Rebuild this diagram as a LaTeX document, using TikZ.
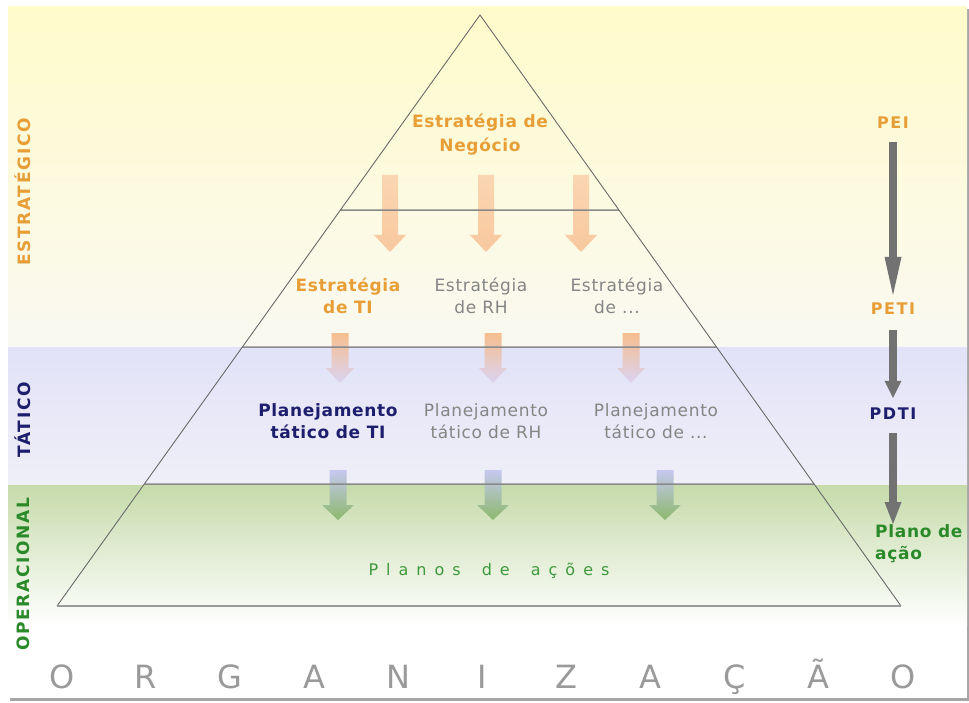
\documentclass[tikz,border=0pt]{standalone}
\usepackage{fontspec}
\setmainfont{DejaVu Sans}
\newfontfamily\lsfont[LetterSpace=4]{DejaVu Sans}
\newfontfamily\widefont[LetterSpace=10]{DejaVu Sans}
\newfontfamily\planosfont[LetterSpace=50]{DejaVu Sans}
\usetikzlibrary{arrows.meta}

\definecolor{orangeT}{HTML}{E89E36}
\definecolor{navyT}{HTML}{1E1E6E}
\definecolor{greenT}{HTML}{2A8A2A}
\definecolor{grayT}{HTML}{858585}
\definecolor{planosG}{HTML}{3E9A3E}
\definecolor{letterG}{HTML}{9A9A9A}
\definecolor{yTop}{HTML}{FFFBCB}
\definecolor{yMid}{HTML}{FEFBDF}
\definecolor{yBot}{HTML}{FAF9F1}
\definecolor{bTop}{HTML}{E2E2F8}
\definecolor{bBot}{HTML}{EFEFF8}
\definecolor{gTop}{HTML}{C6DBAA}
\definecolor{gMid}{HTML}{E2ECD4}
\definecolor{peachA}{HTML}{FAD6B2}
\definecolor{peachB}{HTML}{F8C89E}
\definecolor{peachC}{HTML}{F6BE8E}
\definecolor{lavA}{HTML}{DAD3F2}
\definecolor{lavB}{HTML}{C6C8F0}
\definecolor{leaf}{HTML}{8CB86C}
\definecolor{arrowG}{HTML}{727272}
\definecolor{lineG}{HTML}{8A8A8A}
\definecolor{sideG}{HTML}{6A6A6A}

\newcommand\FatArrow[8]{%
  \shade[top color=#7,bottom color=#8]
    ({#1-#5},{#2}) -- ({#1+#5},{#2}) -- ({#1+#5},{#3}) -- ({#1+#6},{#3})
    -- ({#1},{#4}) -- ({#1-#6},{#3}) -- ({#1-#5},{#3}) -- cycle;}

\tikzset{
  lbl/.style={inner sep=0pt, align=center, text=grayT,
    font=\lsfont\fontsize{17}{22}\selectfont},
  boldlbl/.style={inner sep=0pt, align=center,
    font=\lsfont\bfseries\fontsize{17}{22}\selectfont},
  sidelbl/.style={inner sep=0pt, rotate=90,
    font=\widefont\bfseries\fontsize{17}{20}\selectfont},
  rightlbl/.style={inner sep=0pt,
    font=\widefont\bfseries\fontsize{16}{20}\selectfont},
  letter/.style={inner sep=0pt, anchor=base, text=letterG,
    font=\fontsize{32}{36}\selectfont},
  garrow/.style={draw=arrowG, line width=8pt,
    -{Triangle[length=#1,width=17pt,line width=0pt]}},
  hline/.style={draw=lineG, line width=1.5pt},
  side/.style={draw=sideG, line width=0.9pt},
}

\begin{document}
\begin{tikzpicture}[x=1pt,y=-1pt]
\useasboundingbox (0,0) rectangle (969,703);
% frame and shadow
\fill[black!35] (10,9) rectangle (969,701);
\fill[white] (8,7) rectangle (967,698);
% bands
\shade[top color=yTop, middle color=yMid, bottom color=yBot] (8,7) rectangle (967,347);
\shade[top color=bTop, bottom color=bBot] (8,347) rectangle (967,485);
\shade[top color=gTop, middle color=gMid, bottom color=white] (8,485) rectangle (967,625);

% pyramid
\coordinate (apex) at (480,15);
\coordinate (bl) at (57,606);
\coordinate (br) at (901,606);
\coordinate (l1) at (intersection of bl--apex and 0,210--100,210);
\coordinate (r1) at (intersection of br--apex and 0,210--100,210);
\coordinate (l2) at (intersection of bl--apex and 0,347--100,347);
\coordinate (r2) at (intersection of br--apex and 0,347--100,347);
\coordinate (l3) at (intersection of bl--apex and 0,484--100,484);
\coordinate (r3) at (intersection of br--apex and 0,484--100,484);

% fat arrows row 1
\FatArrow{390}{175}{235}{252}{8}{16}{peachA}{peachB}
\FatArrow{486}{175}{235}{252}{8}{16}{peachA}{peachB}
\FatArrow{581}{175}{235}{252}{8}{16}{peachA}{peachB}
% row 2
\FatArrow{340}{333}{368}{383}{8.5}{14}{peachC}{lavA}
\FatArrow{493}{333}{368}{383}{8.5}{14}{peachC}{lavA}
\FatArrow{631}{333}{368}{383}{8.5}{14}{peachC}{lavA}
% row 3
\FatArrow{338}{470}{505}{520}{8.5}{16}{lavB}{leaf}
\FatArrow{493}{470}{505}{520}{8.5}{16}{lavB}{leaf}
\FatArrow{665}{470}{505}{520}{8.5}{16}{lavB}{leaf}

\draw[hline] (l1) -- (r1);
\draw[hline] (l2) -- (r2);
\draw[hline] (l3) -- (r3);
\draw[side] (bl) -- (apex) -- (br);
\draw[draw=black!40, line width=1.8pt] (bl) -- (br);

% pyramid texts
\node[boldlbl, text=orangeT, font=\lsfont\bfseries\fontsize{17}{24}\selectfont] (neg) at (480,135) {Estratégia de\\Negócio};
\node[boldlbl, text=orangeT] (eti) at (348,296) {Estratégia\\de TI};
\node[lbl] (erh) at (481,296) {Estratégia\\de RH};
\node[lbl] (eout) at (617,296) {Estratégia\\de ...};
\node[boldlbl, text=navyT] (pti) at (328,421) {Planejamento\\tático de TI};
\node[lbl] (prh) at (486,421) {Planejamento\\tático de RH};
\node[lbl] (pout) at (656,421) {Planejamento\\tático de ...};
\node[inner sep=0pt, text=planosG, font=\planosfont\fontsize{16}{20}\selectfont] (planos) at (489,571) {Planos\hspace{8pt} de\hspace{8pt} ações};

% left vertical labels
\node[sidelbl, text=orangeT] (vest) at (23,192) {ESTRATÉGICO};
\node[sidelbl, text=navyT] (vtat) at (23,420) {TÁTICO};
\node[sidelbl, text=greenT] (vope) at (23,574) {OPERACIONAL};

% right column
\node[rightlbl, text=orangeT] (pei) at (893,123) {PEI};
\node[rightlbl, text=orangeT] (peti) at (893,309) {PETI};
\node[rightlbl, text=navyT] (pdti) at (893,414) {PDTI};
\node[inner sep=0pt, anchor=west, align=left, text=greenT,
  font=\lsfont\bfseries\fontsize{17}{22}\selectfont] (plano) at (875,544) {Plano de\\ação};
\coordinate (a3e) at (893,524);
\draw[garrow=38pt, shorten <=13pt, shorten >=8pt] (pei) -- (peti);
\draw[garrow=17pt, shorten <=15pt, shorten >=10pt] (peti) -- (pdti);
\draw[garrow=22pt, shorten <=13pt] (pdti) -- (a3e);

% bottom word
\foreach \ch [count=\i from 0] in {O,R,G,A,N,I,Z,A,Ç,Ã,O}
  \node[letter] (org\i) at ({62+84.1*\i},688) {\ch};
\end{tikzpicture}
\end{document}
